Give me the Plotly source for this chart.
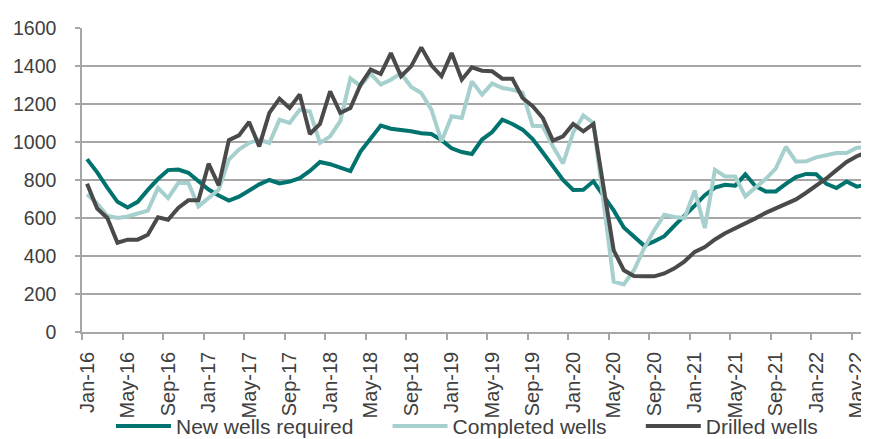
import pandas as pd
import plotly.graph_objects as go

# monthly data, Jan-16 .. Jul-22
months = pd.date_range("2016-01-01", periods=79, freq="MS").strftime("%b-%y").tolist()

new_wells_required = [
    910, 840, 760, 685, 655, 685, 748, 805, 852, 855, 838, 795,
    750, 718, 692, 712, 745, 777, 800, 782, 792, 810, 848, 895,
    883, 865, 847, 950, 1017, 1087, 1070, 1066, 1057, 1046, 1042, 1010,
    967, 947, 937, 1013, 1052, 1117, 1095, 1065, 1015, 945, 870, 800,
    748, 749, 793, 715, 640, 550, 500, 455, 477, 504, 560, 610,
    665, 720, 760, 775, 770, 830, 767, 740, 740, 780, 815, 832,
    830, 780, 758, 792, 765, 777, 778,
]

completed_wells = [
    725, 675, 612, 600, 608, 625, 639, 758, 705, 784, 784, 661,
    705, 749, 907, 960, 995, 1012, 995, 1117, 1100, 1170, 1160, 995,
    1030, 1110, 1335, 1295, 1360, 1302, 1328, 1362, 1290, 1258, 1170, 1004,
    1135, 1126, 1319, 1249, 1308, 1284, 1275, 1260, 1085, 1083, 978, 887,
    1050, 1140, 1100, 700, 265, 250, 325, 440, 535, 617, 605, 600,
    744, 547, 854, 819, 819, 714, 760, 805, 860, 975, 897, 898,
    919, 930, 942, 942, 970, 972, 988,
]

drilled_wells = [
    780, 650, 600, 470, 486, 486, 512, 604, 591, 653, 693, 693,
    886, 772, 1010, 1035, 1105, 977, 1153, 1228, 1179, 1250, 1042, 1095,
    1267, 1153, 1179, 1302, 1381, 1358, 1468, 1346, 1398, 1498, 1404, 1346,
    1468, 1328, 1393, 1375, 1372, 1333, 1333, 1232, 1188, 1126, 1007, 1030,
    1095, 1056, 1095, 760, 430, 325, 295, 293, 293, 308, 335, 372,
    422, 447, 487, 520, 545, 572, 598, 627, 650, 672, 698, 733,
    768, 808, 852, 895, 925, 950, 970,
]

x = list(range(len(months)))
tick_idx = list(range(0, len(months), 4))
tick_labels = [months[i] for i in tick_idx]

grid = "#A6A6A6"
txt = "#404040"
font = "Arial, Liberation Sans, sans-serif"
pad = "\u00a0" * 5  # widen the gap between legend entries a little

fig = go.Figure()
fig.add_trace(go.Scatter(x=x, y=new_wells_required, name="New wells required" + pad,
                         mode="lines", line=dict(color="#00736E", width=4)))
fig.add_trace(go.Scatter(x=x, y=completed_wells, name="Completed wells" + pad,
                         mode="lines", line=dict(color="#A6D0CD", width=4)))
fig.add_trace(go.Scatter(x=x, y=drilled_wells, name="Drilled wells",
                         mode="lines", line=dict(color="#4A4A4A", width=4)))

fig.update_layout(
    width=869, height=439,
    margin=dict(l=74, r=0, t=20, b=115, autoexpand=False),
    paper_bgcolor="white", plot_bgcolor="white",
    font=dict(family=font, color=txt, size=19),
    legend=dict(orientation="h", xref="container", yref="container",
                x=0.1185, xanchor="left", y=0.047, yanchor="middle",
                bgcolor="rgba(0,0,0,0)",
                font=dict(size=21, color=txt), itemwidth=55),
    xaxis=dict(
        automargin=False,
        range=[-0.5, 78.0], tickmode="array", tickvals=tick_idx, ticktext=tick_labels,
        tickangle=-90, ticks="", showgrid=False, zeroline=False, tickfont=dict(size=20),
        showline=True, linecolor=grid, linewidth=1.5, ticklabelstandoff=10,
        minor=dict(tickmode="array", tickvals=[i - 0.5 for i in tick_idx],
                   ticks="outside", ticklen=6, tickcolor=grid, tickwidth=1.5, showgrid=False),
    ),
    yaxis=dict(
        automargin=False,
        range=[0, 1600], dtick=200, showgrid=True, gridcolor=grid, gridwidth=1.5,
        zeroline=False, showline=True, linecolor=grid, linewidth=1.5, tickfont=dict(size=19.5),
        ticks="outside", ticklen=5, tickcolor=grid, tickwidth=1.5, ticklabelstandoff=15,
    ),
)

fig.write_html("out.html")
